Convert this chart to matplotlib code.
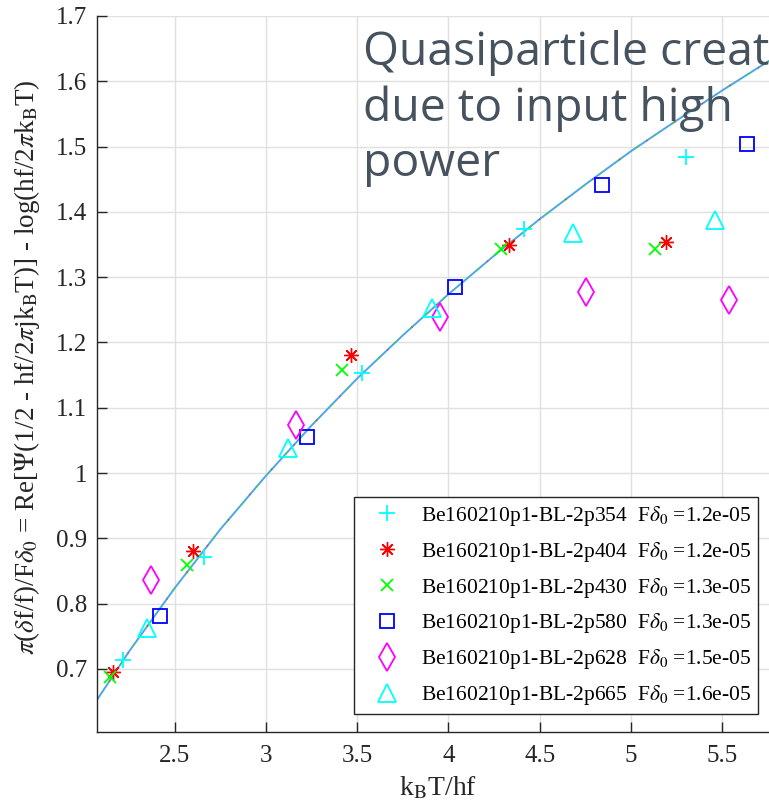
import numpy as np
import matplotlib.pyplot as plt

#=======================================================
# Data
#=======================================================

names = ['Be160210p1-BL-2p354', 'Be160210p1-BL-2p404', 'Be160210p1-BL-2p430',
         'Be160210p1-BL-2p580', 'Be160210p1-BL-2p628', 'Be160210p1-BL-2p665']
fdelta = ['1.2e-05', '1.2e-05', '1.3e-05', '1.3e-05', '1.5e-05', '1.6e-05']

x_354 = [2.216, 2.658, 3.527, 4.413, 5.303]
y_354 = [0.714, 0.871, 1.153, 1.374, 1.484]
x_404 = [2.161, 2.598, 3.467, 4.331, 5.194]
y_404 = [0.695, 0.881, 1.181, 1.349, 1.354]
x_430 = [2.145, 2.565, 3.418, 4.287, 5.134]
y_430 = [0.688, 0.859, 1.158, 1.343, 1.343]
x_580 = [2.418, 3.222, 4.036, 4.839, 5.637]
y_580 = [0.781, 1.055, 1.285, 1.441, 1.504]
x_628 = [2.369, 3.167, 3.953, 4.751, 5.538]
y_628 = [0.836, 1.074, 1.239, 1.277, 1.265]
x_665 = [2.347, 3.120, 3.910, 4.680, 5.462]
y_665 = [0.763, 1.038, 1.253, 1.367, 1.388]

# theory curve
x_th = [2.07, 2.25, 2.5, 2.75, 3.0, 3.25, 3.5, 3.75, 4.0, 4.25, 4.5, 4.75, 5.0, 5.25, 5.5, 5.8]
y_th = [0.651, 0.727, 0.824, 0.914, 0.996, 1.073, 1.145, 1.211, 1.274, 1.333, 1.389,
        1.442, 1.493, 1.540, 1.586, 1.639]

xs = [x_354, x_404, x_430, x_580, x_628, x_665]
ys = [y_354, y_404, y_430, y_580, y_628, y_665]

#=======================================================
# Style
#=======================================================

colors = ['#00FFFF', '#FF0000', '#00FF00', '#0000FF', '#FF00FF', '#00FFFF']
markers = ['+', (8, 2, 0), 'x', 's', 'd', '^']
msizes = [12, 10.5, 9, 9.5, 14, 12.5]
mews = [1.3, 1.0, 1.3, 1.3, 1.3, 1.3]

plt.rcParams['font.family'] = ['Liberation Serif', 'DejaVu Serif']
plt.rcParams['mathtext.fontset'] = 'stix'

fig = plt.figure(figsize=(7.69, 8.10), dpi=100)
W, H = 769, 810
ax = fig.add_axes([97 / W, (H - 732) / H, (777 - 97) / W, (732 - 16) / H])

#=======================================================
# Plot
#=======================================================

ax.plot(x_th, y_th, color='#4DA6E6', lw=1.4, zorder=2)
ax.plot(x_th, y_th, color='#33DD33', lw=1.0, linestyle=(0, (2, 14)), zorder=2)
ax.plot(x_th, y_th, color='#E04040', lw=1.0, linestyle=(7, (1, 23)), zorder=2)

for i in range(6):
    ax.plot(xs[i], ys[i], linestyle='', marker=markers[i], ms=msizes[i],
            mec=colors[i], mfc='none', mew=mews[i], color=colors[i], zorder=3,
            label=names[i] + '  F$\\delta_0$ =' + fdelta[i])

ax.set_xlim(2.074, 5.8)
ax.set_ylim(0.6035, 1.7)
ax.set_xticks([2.5, 3, 3.5, 4, 4.5, 5, 5.5])
ax.set_xticklabels(['2.5', '3', '3.5', '4', '4.5', '5', '5.5'])
ax.set_yticks([0.7, 0.8, 0.9, 1.0, 1.1, 1.2, 1.3, 1.4, 1.5, 1.6, 1.7])
ax.set_yticklabels(['0.7', '0.8', '0.9', '1', '1.1', '1.2', '1.3', '1.4', '1.5', '1.6', '1.7'])

ax.grid(True, color='#E0E0E0', lw=1.0)
ax.set_axisbelow(True)
for s in ['top', 'right']:
    ax.spines[s].set_visible(False)
for s in ['left', 'bottom']:
    ax.spines[s].set_color('#262626')
    ax.spines[s].set_linewidth(1.0)
ax.tick_params(direction='in', length=7, width=1.0, colors='#262626', labelsize=18)
ax.tick_params(axis='x', pad=9)
ax.tick_params(axis='y', pad=7)

# axis labels
fig.text(438 / W, 1 - 795 / H, 'k$_{\\rm B}$T/hf', fontsize=20, color='#262626',
         ha='center', va='baseline')
fig.text(27 / W, 1 - 367 / H,
         '$\\pi$($\\delta$f/f)/F$\\delta_0$ = Re[$\\Psi$(1/2 - hf/2$\\pi$jk$_{\\rm B}$T)]'
         ' - log(hf/2$\\pi$k$_{\\rm B}$T)', fontsize=19.5, color='#262626',
         rotation=90, ha='center', va='center')

leg = ax.legend(loc='upper left', bbox_to_anchor=(354 / W, 1 - 497 / H),
                bbox_transform=fig.transFigure, fontsize=15.5, frameon=True,
                fancybox=False, edgecolor='#262626', framealpha=1,
                borderaxespad=0, handletextpad=0.35, labelspacing=0.55,
                borderpad=0.32, handlelength=2.45)
leg.get_frame().set_linewidth(1.0)

fig.text(363 / W, 1 - 30 / H, 'Quasiparticle creation\ndue to input high\npower',
         fontsize=33.3, color='#46535E', family=['Open Sans', 'DejaVu Sans'],
         va='top', ha='left', linespacing=1.26)

fig.savefig('out.png', dpi=100)
